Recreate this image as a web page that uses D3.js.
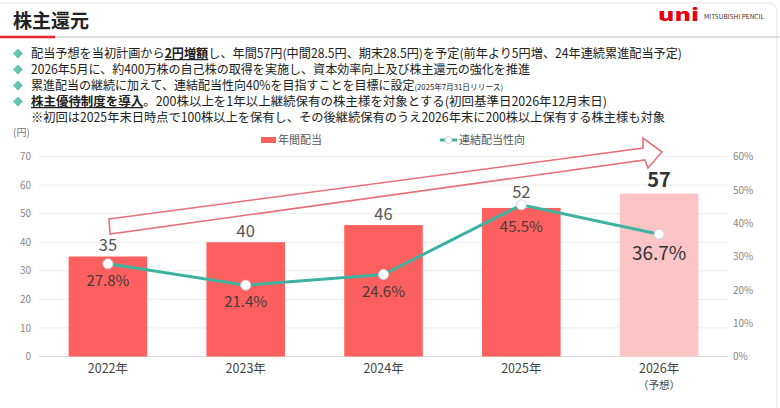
<!DOCTYPE html>
<meta charset="utf-8">
<style>
body { margin: 0; background: #fff; font-family: "Noto Sans CJK JP", "Noto Sans", sans-serif; }
svg text { font-family: "Noto Sans CJK JP", "Noto Sans", sans-serif; }
</style>
<body>
<script src="https://cdn.jsdelivr.net/npm/d3@7"></script>
<script>

var years = ["2022年", "2023年", "2024年", "2025年", "2026年"];
var yearNotes = ["", "", "", "", "（予想）"];
var dividend = [35, 40, 46, 52, 57];
var payout = [27.8, 21.4, 24.6, 45.5, 36.7];
var yenTicks = [0, 10, 20, 30, 40, 50, 60, 70];
var pctTicks = [0, 10, 20, 30, 40, 50, 60];

var bullets = [
  [["配当予想を当初計画から"], ["2円増額", "bu"], ["し、年間57円(中間28.5円、期末28.5円)を予定(前年より5円増、24年連続累進配当予定)"]],
  [["2026年5月に、約400万株の自己株の取得を実施し、資本効率向上及び株主還元の強化を推進"]],
  [["累進配当の継続に加えて、連結配当性向40%を目指すことを目標に設定"], ["(2025年7月31日リリース)", "s"]],
  [["株主優待制度を導入", "bu"], ["。200株以上を1年以上継続保有の株主様を対象とする(初回基準日2026年12月末日)"]],
  [["※初回は2025年末日時点で100株以上を保有し、その後継続保有のうえ2026年末に200株以上保有する株主様も対象"]]
];

var width = 780, height = 408;
var red = "#fe6060", pink = "#fdc4c6", teal = "#3db39f";

var svg = d3.select("body").append("svg")
    .attr("width", width)
    .attr("height", height);

// card edge
svg.append("rect")
  .attr("x", -10).attr("y", 3).attr("width", 787).attr("height", 420)
  .attr("rx", 8).attr("fill", "none").attr("stroke", "#e2e2e2");

// header
svg.append("text").attr("x", 13).attr("y", 28)
  .attr("font-size", 19).attr("font-weight", 700).attr("fill", "#222")
  .text("株主還元");
svg.append("line").attr("x1", 55).attr("x2", 780).attr("y1", 37).attr("y2", 37)
  .attr("stroke", "#dcdcdc").attr("stroke-width", 2);
svg.append("line").attr("x1", 0).attr("x2", 55).attr("y1", 37).attr("y2", 37)
  .attr("stroke", "#e3262b").attr("stroke-width", 2.5);

svg.append("text").attr("x", 658).attr("y", 21)
  .attr("font-size", 17).attr("font-weight", 900).attr("fill", "#e60012")
  .attr("font-family", "DejaVu Sans")
  .attr("textLength", 41).attr("lengthAdjust", "spacingAndGlyphs")
  .text("uni");
svg.append("text").attr("x", 704).attr("y", 18.5)
  .attr("font-size", 6).attr("fill", "#333")
  .attr("font-family", "Liberation Sans")
  .attr("textLength", 60).attr("lengthAdjust", "spacingAndGlyphs")
  .text("MITSUBISHI PENCIL");

// bullet lines
var lineY = [58, 74, 90, 106, 122];
var lineW = [651, 499, 472, 576, 634];
bullets.forEach(function(segs, i) {
  if (i < 4) {
    svg.append("rect")
      .attr("x", -3.5).attr("y", -3.5).attr("width", 7).attr("height", 7)
      .attr("fill", "#5fc4b4")
      .attr("transform", "translate(18," + (lineY[i] - 4.5) + ") rotate(45)");
  }
  var t = svg.append("text").attr("x", 31).attr("y", lineY[i])
    .attr("font-size", 12.5).attr("fill", "#222")
    .attr("textLength", lineW[i]).attr("lengthAdjust", "spacingAndGlyphs");
  segs.forEach(function(s) {
    var sp = t.append("tspan").text(s[0]);
    if (s[1] === "bu") sp.attr("font-weight", 700).style("text-decoration", "underline");
    if (s[1] === "s") sp.attr("font-size", 8);
  });
});

// chart
var x = d3.scaleBand().domain(years).range([39, 728]).paddingInner(0.43).paddingOuter(0.215);
var y = d3.scaleLinear().domain([0, 70]).range([356.5, 156.5]);
var y2 = d3.scaleLinear().domain([0, 60]).range([356.5, 156.5]);

svg.append("g").selectAll("line").data(yenTicks).enter().append("line")
  .attr("x1", 39).attr("x2", 728)
  .attr("y1", function(d){ return y(d); }).attr("y2", function(d){ return y(d); })
  .attr("stroke", function(d){ return d === 0 ? "#d8d8d8" : "#ececec"; })
  .attr("stroke-width", 1);

var yAxis = svg.append("g").attr("transform", "translate(31,0)")
  .call(d3.axisLeft(y).tickValues(yenTicks).tickSize(0).tickPadding(0));
var y2Axis = svg.append("g").attr("transform", "translate(733,0)")
  .call(d3.axisRight(y2).tickValues(pctTicks).tickSize(0).tickPadding(0)
    .tickFormat(function(d){ return d + "%"; }));
[yAxis, y2Axis].forEach(function(a) {
  a.select(".domain").remove();
  a.selectAll("text").attr("font-size", 10).attr("fill", "#888")
    .attr("font-family", "Noto Sans CJK JP");
});

svg.append("text").attr("x", 13).attr("y", 136)
  .attr("font-size", 10).attr("fill", "#777").text("(円)");

var xAxis = svg.append("g").attr("transform", "translate(0,356.5)")
  .call(d3.axisBottom(x).tickSize(0).tickPadding(8));
xAxis.select(".domain").remove();
xAxis.selectAll("text").attr("font-size", 12.5).attr("fill", "#444")
  .attr("font-family", "Noto Sans CJK JP");
svg.append("g").selectAll("text").data(years).enter().append("text")
  .attr("x", function(d){ return x(d) + x.bandwidth() / 2; })
  .attr("y", 389).attr("text-anchor", "middle")
  .attr("font-size", 10.5).attr("fill", "#444")
  .text(function(d, i){ return yearNotes[i]; });

// bars
svg.append("g").selectAll("rect").data(dividend).enter().append("rect")
  .attr("x", function(d, i){ return x(years[i]); })
  .attr("width", x.bandwidth())
  .attr("y", function(d){ return y(d); })
  .attr("height", function(d){ return y(0) - y(d); })
  .attr("fill", function(d, i){ return i === 4 ? pink : red; });

svg.append("g").selectAll("text").data(dividend).enter().append("text")
  .attr("x", function(d, i){ return x(years[i]) + x.bandwidth() / 2; })
  .attr("y", function(d, i){ return y(d) - (i === 3 ? 10 : i === 4 ? 6.5 : 5.5); })
  .attr("text-anchor", "middle")
  .attr("font-size", function(d, i){ return i === 4 ? 20 : 16.5; })
  .attr("font-weight", function(d, i){ return i === 4 ? 700 : 400; })
  .attr("fill", function(d, i){ return i === 4 ? "#333" : "#555"; })
  .text(function(d){ return d; });

// arrow
var arrow = [[109, 219], [643, 148], [643, 138], [662, 152], [648, 168], [645, 160], [110, 234]];
svg.append("path")
  .attr("d", d3.line()(arrow) + "Z")
  .attr("fill", "#fff").attr("fill-opacity", 0.85)
  .attr("stroke", "#e8707a").attr("stroke-width", 1.6)
  .attr("stroke-linejoin", "miter");

// payout line
var cx = function(d, i){ return x(years[i]) + x.bandwidth() / 2; };
svg.append("path")
  .attr("d", d3.line().x(cx).y(function(d){ return y2(d); })(payout))
  .attr("fill", "none").attr("stroke", teal).attr("stroke-width", 3);
svg.append("g").selectAll("circle").data(payout).enter().append("circle")
  .attr("cx", cx).attr("cy", function(d){ return y2(d); })
  .attr("r", 5).attr("fill", "#fff").attr("stroke", "#d0d0d0").attr("stroke-width", 1);

svg.append("g").selectAll("text").data(payout).enter().append("text")
  .attr("x", cx)
  .attr("y", function(d, i){ return y2(d) + (i === 3 ? 27 : i === 4 ? 25.5 : 22); })
  .attr("text-anchor", "middle")
  .attr("font-size", function(d, i){ return i === 4 ? 19 : 15; })
  .attr("fill", function(d, i){ return i === 4 ? "#333" : "#4a3a3a"; })
  .text(function(d){ return d.toFixed(1) + "%"; });

// legend
svg.append("rect").attr("x", 261).attr("y", 137).attr("width", 15).attr("height", 6).attr("fill", red);
svg.append("text").attr("x", 278).attr("y", 144).attr("font-size", 11).attr("fill", "#555").text("年間配当");
svg.append("line").attr("x1", 440).attr("x2", 457).attr("y1", 140).attr("y2", 140)
  .attr("stroke", teal).attr("stroke-width", 3);
svg.append("circle").attr("cx", 448.5).attr("cy", 140).attr("r", 3.5)
  .attr("fill", "#fff").attr("stroke", "#d0d0d0");
svg.append("text").attr("x", 459).attr("y", 144).attr("font-size", 11).attr("fill", "#555").text("連結配当性向");

</script>
